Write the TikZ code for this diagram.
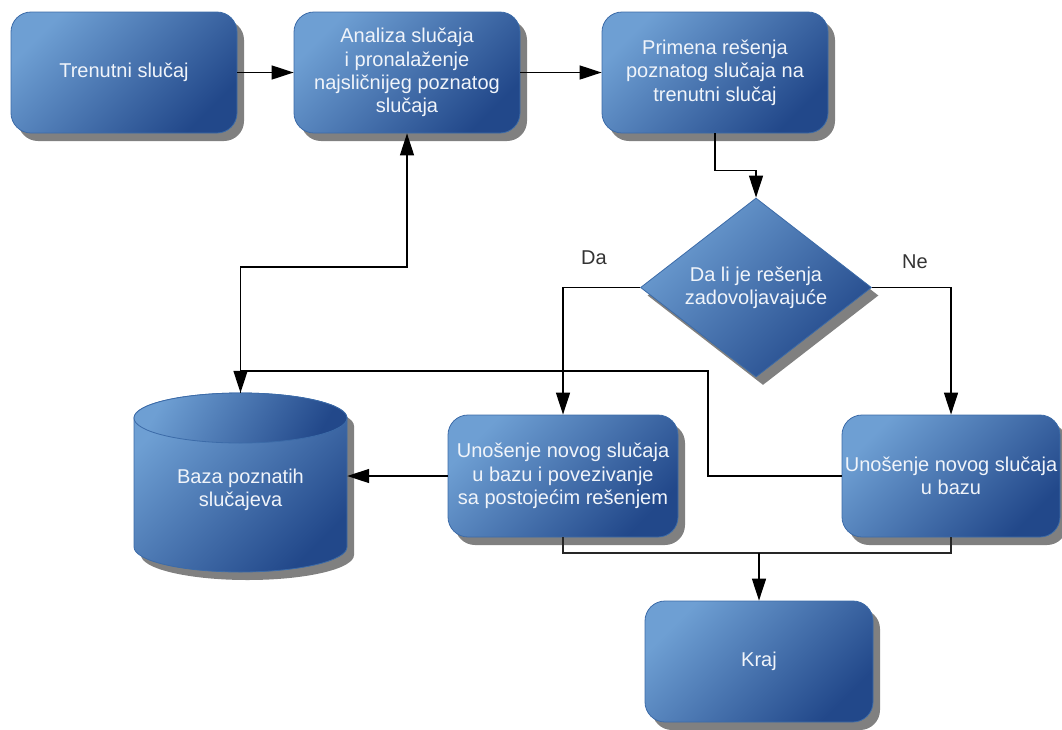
\documentclass[tikz,border=0pt]{standalone}
\usepackage{fontspec}
\setmainfont{Liberation Sans}
\usetikzlibrary{arrows.meta,shapes.geometric,shadows}
\definecolor{boxlight}{HTML}{6E9FD3}
\definecolor{boxdark}{HTML}{22488A}
\definecolor{boxedge}{HTML}{3C6BA8}
\definecolor{shadowgray}{HTML}{808080}
\definecolor{txt}{HTML}{F0F4FA}
\definecolor{lbl}{HTML}{333333}
\tikzset{
  fillstyle/.style={draw=boxedge, line width=0.8pt, top color=boxlight, bottom color=boxdark, shading angle=45},
  shad/.style={drop shadow={shadow xshift=7pt, shadow yshift=-8pt, fill=shadowgray, opacity=1}},
  box/.style={fillstyle, shad, rounded corners=20pt, text=txt, align=center, inner sep=0pt,
    font=\fontsize{20}{23.3}\selectfont, minimum width=226pt, minimum height=121pt},
  dia/.style={diamond, fillstyle, shad, text=txt, align=center, inner sep=0pt, aspect=1.29,
    font=\fontsize{20}{23.3}\selectfont, minimum width=231pt, minimum height=179pt},
  dbtext/.style={text=txt, align=center, inner sep=0pt, font=\fontsize{20}{23.3}\selectfont,
    minimum width=213pt, minimum height=193pt},
  lbl/.style={text=lbl, font=\fontsize{20}{23.3}\selectfont, inner sep=0pt},
  arr/.style={line width=1.4pt, -{Triangle[length=22pt,width=14pt]}},
  plain/.style={line width=1.2pt, draw=black!85},
}
\begin{document}
\begin{tikzpicture}[x=1pt,y=-1pt]
\useasboundingbox (0,0) rectangle (1062,729);
% boxes
\node[box] (b1) at (124,72.5) {Trenutni slučaj};
\node[box] (b2) at (407,72.5) {Analiza slučaja\\i pronalaženje\\najsličnijeg poznatog\\slučaja};
\node[box] (b3) at (715,72.5) {Primena rešenja\\poznatog slučaja na\\trenutni slučaj};
\node[dia] (d) at (756,287.5) {Da li je rešenja\\zadovoljavajuće};
\node[box, minimum width=230pt, minimum height=122pt] (b4) at (563,476) {Unošenje novog slučaja\\u bazu i povezivanje\\sa postojećim rešenjem};
\node[box, minimum width=218pt, minimum height=122pt] (b5) at (951,476) {Unošenje novog slučaja\\u bazu};
\node[box, minimum width=228pt] (kraj) at (759,661.5) {Kraj};
% cylinder
\path[fillstyle, shad] (134,418) -- (134,547)
  arc[start angle=180, end angle=360, x radius=106.5pt, y radius=25pt]
  -- (347,418)
  arc[start angle=0, end angle=180, x radius=106.5pt, y radius=25pt] -- cycle;
\draw[fillstyle, shading angle=60] (240.5,418) ellipse [x radius=106.5pt, y radius=25pt];
\node[dbtext] (db) at (240.5,489.5) {Baza poznatih\\slučajeva};
% labels
\node[lbl] (da) at (594,258) {Da};
\node[lbl] (ne) at (915,262) {Ne};
% connectors
\draw[arr] (b1.east) -- (b2.west);
\draw[arr] (b2.east) -- (b3.west);
\draw[arr] (b3.south) -- ++(0,37) -| (d.north);
\draw[arr] (d.west) -| (b4.north);
\draw[arr] (d.east) -| (b5.north);
\draw[arr] (b4.west) -- (b4.west -| db.east);
\draw[arr] (b5.west) -| (708,371) -| (db.north);
\draw[arr] (db.north) |- (407,267) -- (b2.south);
\coordinate (join) at (759,553);
\draw[plain] (b4.south) |- (join) -| (b5.south);
\draw[arr] (join) -- (kraj.north);
\end{tikzpicture}
\end{document}
